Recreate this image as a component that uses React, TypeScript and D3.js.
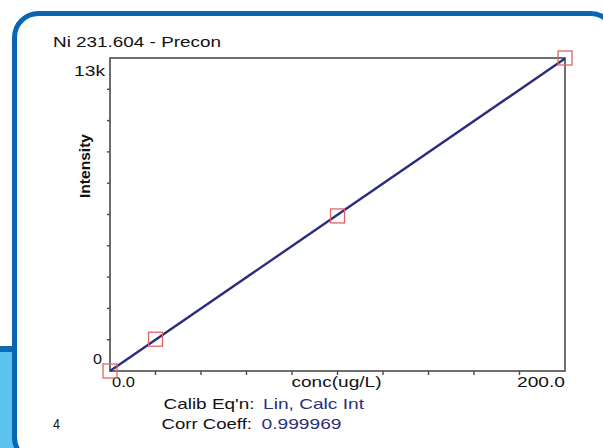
import React from 'react';
import * as d3 from 'd3';

// calibration standards
const concValues = [0, 20, 100, 200];
const intensityValues = [0, 1320, 6440, 13000];

const xTickLabels = ['0.0', '200.0'];
const yTickLabels = ['0', '13k'];
const xAxisTitle = 'conc(ug/L)';
const yAxisTitle = 'Intensity';
const chartTitle = 'Ni 231.604 - Precon';
const eqnLabel = "Calib Eq'n:";
const eqnValue = 'Lin, Calc Int';
const corrLabel = 'Corr Coeff:';
const corrValue = '0.999969';
const stdCount = '4';

const W = 603;
const H = 448;
const FONT = '"Liberation Sans", Arial, sans-serif';
const NAVY = '#2b2d7e';
const AXIS = '#4a4a4a';

const App: React.FC = () => {
  const x = d3.scaleLinear().domain([0, 200]).range([110, 565]);
  const y = d3.scaleLinear().domain([0, 13000]).range([371, 58]);

  // least squares fit through the standards
  const mx = d3.mean(concValues) as number;
  const my = d3.mean(intensityValues) as number;
  const slope =
    d3.sum(concValues, (c, i) => (c - mx) * (intensityValues[i] - my)) /
    d3.sum(concValues, (c) => (c - mx) * (c - mx));
  const icpt = my - slope * mx;
  const fitLine = d3
    .line<number>()
    .x((c) => x(c))
    .y((c) => y(icpt + slope * c));

  const xTicks = d3.range(0, 201, 20);
  const yTicks = d3.range(0, 13001, 1300);

  const txt = (
    s: string,
    tx: number,
    ty: number,
    len: number,
    opts: { size?: number; fill?: string; anchor?: string; bg?: boolean } = {}
  ) => {
    const size = opts.size ?? 15;
    const anchor = opts.anchor ?? 'start';
    const left = anchor === 'end' ? tx - len : anchor === 'middle' ? tx - len / 2 : tx;
    return (
      <g key={s + tx}>
        {opts.bg && <rect x={left - 1} y={ty - size * 0.78} width={len + 2} height={size * 1.0} fill="#fff" />}
        <text
          x={tx}
          y={ty}
          fontFamily={FONT}
          fontSize={size}
          fill={opts.fill ?? '#111'}
          textAnchor={anchor}
          textLength={len}
          lengthAdjust="spacingAndGlyphs"
        >
          {s}
        </text>
      </g>
    );
  };

  return (
    <svg
      width={W}
      height={H}
      viewBox={`0 0 ${W} ${H}`}
      style={{ position: 'absolute', left: 0, top: 0, background: '#fff' }}
    >
      {/* page decoration behind the panel */}
      <rect x={0} y={346} width={40} height={H - 346} fill="#5cc3ee" />
      <rect x={0} y={346} width={14} height={6} fill="#0d6bb4" />
      <rect x={14.5} y={13.5} width={600} height={448} rx={24} fill="#fff" stroke="#0a66b0" strokeWidth={5} />

      {txt(chartTitle, 53, 47, 168)}

      {/* plot frame */}
      <rect x={x(0)} y={y(13000)} width={x(200) - x(0)} height={y(0) - y(13000)} fill="none" stroke={AXIS} strokeWidth={1.6} />
      {yTicks.slice(1, -1).map((t) => (
        <line key={'yt' + t} x1={x(0) - 3} x2={x(0)} y1={y(t)} y2={y(t)} stroke={AXIS} strokeWidth={1.4} />
      ))}
      {xTicks.slice(1, -1).map((t) => (
        <line key={'xt' + t} x1={x(t)} x2={x(t)} y1={y(0)} y2={y(0) + 4} stroke={AXIS} strokeWidth={1.4} />
      ))}

      {txt(yTickLabels[1], 105, 76, 31, { anchor: 'end' })}
      {txt(yTickLabels[0], 102, 364, 9, { anchor: 'end' })}
      {txt(xTickLabels[0], 112, 387, 23, { size: 14, bg: true })}
      {txt(xTickLabels[1], 565, 387, 48, { size: 14, anchor: 'end', bg: true })}
      {txt(xAxisTitle, 291.5, 387, 90, { size: 14, bg: true })}

      <text
        transform={`translate(90,166) rotate(-90)`}
        fontFamily={FONT}
        fontSize={14}
        fontWeight="bold"
        fill="#111"
        textAnchor="middle"
        textLength={64}
        lengthAdjust="spacingAndGlyphs"
      >
        {yAxisTitle}
      </text>

      <path d={fitLine([0, 200]) ?? ''} fill="none" stroke={NAVY} strokeWidth={2.4} />
      {concValues.map((c, i) => (
        <rect
          key={'pt' + i}
          x={x(c) - 7}
          y={y(intensityValues[i]) - 7}
          width={14}
          height={14}
          fill="none"
          stroke="#e0646a"
          strokeWidth={1.3}
        />
      ))}

      {txt(eqnLabel, 163.5, 409, 91)}
      {txt(eqnValue, 263, 409, 101, { fill: NAVY })}
      {txt(corrLabel, 161.5, 429, 90.5)}
      {txt(corrValue, 261.5, 429, 80, { fill: NAVY })}
      {txt(stdCount, 53, 429, 7)}
    </svg>
  );
};

export default App;
